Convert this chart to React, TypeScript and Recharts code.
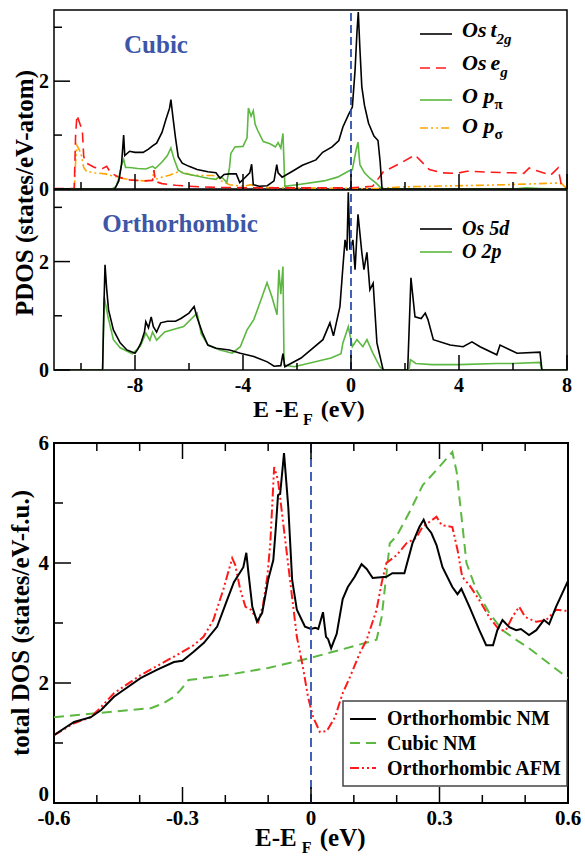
import React from "react";
import { LineChart, Line, XAxis, YAxis, ReferenceLine, ReferenceArea } from "recharts";

type Pt = [number, number];

// cubic PDOS (top panel): [E - E_F (eV), states/eV-atom]
const cubicOsT2g: Pt[] = [
  [-11, 0], [-8.75, 0], [-8.6, 0.15], [-8.5, 0.45], [-8.42, 1.0], [-8.38, 0.62], [-8.2, 0.7], [-8.0, 0.68],
  [-7.7, 0.68], [-7.5, 0.74], [-7.35, 0.8], [-7.2, 0.85], [-7.0, 1.05], [-6.85, 1.3], [-6.72, 1.5], [-6.67, 1.66],
  [-6.6, 1.35], [-6.5, 0.95], [-6.4, 0.6], [-6.25, 0.48], [-6.0, 0.42], [-5.7, 0.36], [-5.3, 0.32], [-5.0, 0.3],
  [-4.85, 0.2], [-4.7, 0.27], [-4.5, 0.28], [-4.25, 0.28], [-4.12, 0.12], [-3.95, 0.2], [-3.75, 0.3], [-3.68, 0.46],
  [-3.62, 0.08], [-3.4, 0.05], [-3.1, 0.06], [-2.85, 0.15], [-2.75, 0.45], [-2.7, 0.3], [-2.55, 0.22], [-2.2, 0.32],
  [-1.8, 0.44], [-1.3, 0.54], [-1.05, 0.68], [-0.7, 0.78], [-0.45, 0.9], [-0.3, 1.15], [-0.1, 1.37], [0.05, 1.52],
  [0.15, 2.2], [0.22, 2.9], [0.27, 3.28], [0.33, 2.6], [0.4, 1.9], [0.5, 1.55], [0.65, 1.22], [0.85, 0.98],
  [1.0, 0.9], [1.08, 0.5], [1.15, 0], [8, 0],
];
const cubicOsEg: Pt[] = [
  [-11, 0.01], [-10.25, 0.01], [-10.2, 1.0], [-10.15, 1.37], [-10.0, 1.15], [-9.95, 1.09], [-9.9, 0.6], [-9.8, 0.48],
  [-9.5, 0.4], [-9.2, 0.38], [-9.05, 0.42], [-8.9, 0.3], [-8.6, 0.22], [-8.2, 0.17], [-7.7, 0.15], [-7.35, 0.16],
  [-7.3, 0.35], [-7.25, 0.14], [-7.0, 0.1], [-6.5, 0.07], [-6.0, 0.05], [-5.0, 0.03], [-3.0, 0.02], [0, 0.02],
  [0.8, 0.05], [1.2, 0.32], [1.8, 0.47], [2.37, 0.63], [2.9, 0.36], [3.4, 0.3], [3.9, 0.29], [4.3, 0.33],
  [5.15, 0.31], [6.0, 0.3], [6.4, 0.29], [6.6, 0.39], [6.75, 0.36], [7.0, 0.32], [7.4, 0.26], [7.67, 0.39],
  [7.8, 0.05], [8, 0],
];
const cubicOPpi: Pt[] = [
  [-11, 0], [-8.85, 0], [-8.7, 0.05], [-8.6, 0.2], [-8.5, 0.45], [-8.42, 0.55], [-8.35, 0.4], [-8.2, 0.4],
  [-7.9, 0.38], [-7.6, 0.37], [-7.35, 0.42], [-7.25, 0.38], [-7.0, 0.5], [-6.8, 0.62], [-6.67, 0.76], [-6.55, 0.55],
  [-6.4, 0.35], [-6.2, 0.29], [-5.8, 0.25], [-5.3, 0.2], [-5.0, 0.18], [-4.9, 0.23], [-4.75, 0.2], [-4.6, 0.12],
  [-4.5, 0.4], [-4.45, 0.66], [-4.3, 0.78], [-4.0, 0.79], [-3.85, 0.95], [-3.8, 1.5], [-3.7, 1.35], [-3.62, 1.45],
  [-3.55, 1.2], [-3.45, 1.08], [-3.25, 0.88], [-3.0, 0.84], [-2.8, 0.78], [-2.7, 0.86], [-2.6, 0.76], [-2.52, 1.03],
  [-2.45, 0.05], [-2.0, 0.08], [-1.0, 0.15], [-0.5, 0.22], [-0.1, 0.33], [0.05, 0.36], [0.18, 0.7], [0.26, 0.87],
  [0.33, 0.45], [0.5, 0.3], [0.7, 0.2], [0.95, 0.1], [1.15, 0], [6.0, 0], [6.5, 0.02], [7.0, 0.01], [8, 0],
];
const cubicOPsigma: Pt[] = [
  [-11, 0], [-10.25, 0], [-10.2, 0.5], [-10.15, 0.81], [-10.0, 0.66], [-9.9, 0.4], [-9.8, 0.33], [-9.5, 0.3],
  [-9.1, 0.28], [-8.8, 0.24], [-8.5, 0.2], [-8.0, 0.16], [-7.6, 0.15], [-7.35, 0.17], [-7.3, 0.35], [-7.25, 0.18],
  [-7.0, 0.22], [-6.7, 0.26], [-6.4, 0.32], [-6.2, 0.3], [-5.9, 0.26], [-5.5, 0.25], [-5.1, 0.25], [-4.8, 0.15],
  [-4.5, 0.08], [-4.0, 0.05], [-3.7, 0.08], [-3.5, 0.03], [-2.0, 0.02], [0, 0.01], [1.0, 0.01], [1.9, 0.04],
  [3.9, 0.06], [5.0, 0.07], [6.4, 0.09], [7.6, 0.11], [7.8, 0.1], [8, 0],
];

// orthorhombic PDOS (middle panel)
const orthoOs5d: Pt[] = [
  [-11, 0], [-9.2, 0], [-9.15, 1.2], [-9.11, 1.94], [-9.05, 1.5], [-8.98, 1.11], [-8.8, 0.74], [-8.55, 0.5],
  [-8.3, 0.37], [-8.0, 0.31], [-7.9, 0.38], [-7.78, 0.5], [-7.65, 0.7], [-7.6, 0.89], [-7.5, 0.78], [-7.4, 0.98],
  [-7.32, 0.8], [-7.2, 0.7], [-7.05, 0.87], [-6.8, 0.9], [-6.5, 0.9], [-6.3, 0.95], [-6.0, 1.05], [-5.81, 1.17],
  [-5.7, 0.97], [-5.5, 0.68], [-5.3, 0.46], [-5.0, 0.4], [-4.5, 0.37], [-4.1, 0.31], [-3.6, 0.25], [-3.1, 0.15],
  [-2.85, 0.07], [-2.6, 0.08], [-2.52, 0.3], [-2.45, 0.06], [-1.85, 0.22], [-1.04, 0.56], [-0.78, 0.87], [-0.65, 0.63],
  [-0.41, 1.17], [-0.3, 1.9], [-0.22, 2.4], [-0.15, 2.2], [-0.1, 3.28], [-0.04, 2.22], [0.07, 2.4], [0.15, 1.85],
  [0.26, 2.87], [0.4, 2.17], [0.48, 1.85], [0.59, 2.17], [0.7, 1.48], [0.82, 1.6], [0.96, 0.5], [1.19, 0],
  [2.1, 0], [2.22, 1.7], [2.37, 0.98], [2.6, 0.95], [2.75, 1.05], [2.85, 0.93], [3.05, 0.56], [3.67, 0.46],
  [4.15, 0.43], [4.48, 0.52], [4.78, 0.43], [5.4, 0.28], [5.52, 0.46], [5.9, 0.37], [6.15, 0.31], [7.0, 0.33],
  [7.07, 0], [8, 0],
];
const orthoO2p: Pt[] = [
  [-11, 0], [-9.2, 0], [-9.14, 1.35], [-9.0, 0.98], [-8.8, 0.56], [-8.55, 0.41], [-8.1, 0.3], [-7.8, 0.44],
  [-7.6, 0.68], [-7.45, 0.55], [-7.35, 0.7], [-7.2, 0.55], [-6.9, 0.7], [-6.2, 0.8], [-5.7, 1.05], [-5.55, 0.67],
  [-5.3, 0.46], [-4.85, 0.37], [-4.4, 0.31], [-4.1, 0.43], [-3.85, 0.74], [-3.6, 0.93], [-3.33, 1.3], [-3.11, 1.61],
  [-2.93, 1.35], [-2.74, 1.02], [-2.67, 1.85], [-2.6, 1.4], [-2.52, 1.91], [-2.48, 0.09], [-2.1, 0.06], [-0.74, 0.22],
  [-0.37, 0.3], [-0.3, 0.5], [-0.1, 0.8], [0.05, 0.43], [0.22, 0.56], [0.44, 0.43], [0.59, 0.56], [0.81, 0.31],
  [1.07, 0.06], [1.2, 0], [2.15, 0], [2.2, 0.19], [2.4, 0.12], [3.0, 0.1], [4.0, 0.1], [5.4, 0.12],
  [6.0, 0.12], [7.0, 0.14], [7.07, 0], [8, 0],
];

// total DOS (bottom panel): [E - E_F (eV), states/eV-f.u.]
const orthoNM: Pt[] = [
  [-0.6, 1.13], [-0.575, 1.25], [-0.553, 1.35], [-0.514, 1.43], [-0.49, 1.55], [-0.46, 1.77], [-0.43, 1.92],
  [-0.398, 2.08], [-0.36, 2.22], [-0.32, 2.35], [-0.3, 2.37], [-0.274, 2.52], [-0.25, 2.67], [-0.219, 2.94],
  [-0.196, 3.38], [-0.18, 3.68], [-0.158, 3.93], [-0.151, 4.17], [-0.146, 3.83], [-0.137, 3.27], [-0.126, 3.02],
  [-0.114, 3.17], [-0.1, 3.72], [-0.088, 4.05], [-0.082, 4.6], [-0.077, 5.13], [-0.072, 5.15], [-0.063, 5.83],
  [-0.053, 4.93], [-0.044, 3.72], [-0.033, 3.22], [-0.014, 2.94], [0, 2.9], [0.01, 2.92], [0.017, 2.9],
  [0.028, 3.18], [0.035, 2.77], [0.04, 2.73], [0.047, 2.58], [0.06, 2.82], [0.074, 3.4], [0.086, 3.6],
  [0.102, 3.77], [0.118, 3.98], [0.13, 3.9], [0.144, 3.75], [0.176, 3.77], [0.19, 3.83], [0.218, 3.83],
  [0.237, 4.33], [0.253, 4.6], [0.263, 4.72], [0.27, 4.6], [0.281, 4.5], [0.293, 4.3], [0.307, 3.93],
  [0.33, 3.6], [0.342, 3.48], [0.351, 3.57], [0.37, 3.27], [0.393, 2.88], [0.409, 2.63], [0.425, 2.63],
  [0.435, 2.88], [0.447, 3.05], [0.463, 2.93], [0.479, 2.88], [0.49, 2.9], [0.509, 2.8], [0.526, 2.88],
  [0.544, 3.05], [0.556, 2.98], [0.572, 3.27], [0.6, 3.7],
];
const cubicNM: Pt[] = [
  [-0.6, 1.43], [-0.374, 1.58], [-0.345, 1.66], [-0.32, 1.77], [-0.305, 1.88], [-0.286, 2.05], [-0.2, 2.13],
  [-0.1, 2.25], [0, 2.42], [0.067, 2.55], [0.153, 2.72], [0.165, 3.1], [0.184, 4.33], [0.2, 4.45], [0.23, 4.85],
  [0.261, 5.3], [0.293, 5.55], [0.33, 5.85], [0.34, 5.52], [0.363, 4.0], [0.386, 3.55], [0.416, 3.17],
  [0.447, 2.88], [0.479, 2.72], [0.509, 2.58], [0.6, 2.08],
];
const orthoAFM: Pt[] = [
  [-0.6, 1.13], [-0.553, 1.33], [-0.514, 1.43], [-0.49, 1.6], [-0.46, 1.83], [-0.398, 2.13], [-0.335, 2.38],
  [-0.305, 2.5], [-0.274, 2.63], [-0.251, 2.77], [-0.228, 3.05], [-0.205, 3.55], [-0.184, 4.08], [-0.177, 3.97],
  [-0.165, 3.55], [-0.153, 3.27], [-0.14, 3.22], [-0.123, 3.02], [-0.112, 3.3], [-0.102, 3.77], [-0.095, 4.33],
  [-0.086, 5.6], [-0.077, 5.38], [-0.065, 4.67], [-0.049, 3.72], [-0.033, 2.77], [-0.019, 2.27], [-0.007, 1.77],
  [0.005, 1.43], [0.021, 1.18], [0.037, 1.2], [0.056, 1.43], [0.074, 1.83], [0.091, 2.1], [0.114, 2.5],
  [0.13, 2.72], [0.153, 3.22], [0.165, 3.67], [0.176, 4.0], [0.2, 4.13], [0.223, 4.33], [0.246, 4.42],
  [0.26, 4.6], [0.293, 4.77], [0.305, 4.63], [0.33, 4.6], [0.342, 4.22], [0.353, 3.77], [0.37, 3.63],
  [0.393, 3.38], [0.416, 3.1], [0.44, 2.88], [0.455, 2.88], [0.47, 3.1], [0.486, 3.27], [0.5, 3.1],
  [0.526, 3.02], [0.549, 3.05], [0.572, 3.22], [0.6, 3.2],
];

// axes
const pdosXDomain: [number, number] = [-11, 8];
const pdosYDomain: [number, number] = [0, 3.32];
const pdosXTicks = [-10, -8, -6, -4, -2, 0, 2, 4, 6, 8];
const pdosXMajor = [-8, -4, 0, 4, 8];
const pdosYTicks = [0, 1, 2, 3];
const pdosYMajor = [0, 2];
const totXDomain: [number, number] = [-0.6, 0.6];
const totYDomain: [number, number] = [0, 6];
const totXTicks = [-0.6, -0.5, -0.4, -0.3, -0.2, -0.1, 0, 0.1, 0.2, 0.3, 0.4, 0.5, 0.6];
const totXMajor = [-0.6, -0.3, 0, 0.3, 0.6];
const totYTicks = [0, 1, 2, 3, 4, 5, 6];
const totYMajor = [0, 2, 4, 6];

const FONT = '"Liberation Serif", "Times New Roman", Times, serif';
const BLACK = "#000000";
const RED = "#ff1a1a";
const GREEN = "#5cb840";
const ORANGE = "#ffa500";
const BLUE = "#3050b0";
const TITLE_BLUE = "#3d56a8";
const DASH = "10 6";
const DASH_DOT = "8 3 2 3 2 3";

const rows = (pts: Pt[]) => pts.map(([x, y]) => ({ x, y }));
const isMajor = (v: number, majors: number[]) => majors.some((m) => Math.abs(m - v) < 1e-9);

// inward ticks; labels only on majors
function xTick(majors: number[], side: "bottom" | "top", long: number, short: number, label: boolean, fontSize: number) {
  return (p: any) => {
    const v = p.payload.value as number;
    const major = isMajor(v, majors);
    const s = side === "bottom" ? -1 : 1;
    return (
      <g>
        <line x1={p.x} x2={p.x} y1={p.y} y2={p.y + s * (major ? long : short)} stroke={BLACK} strokeWidth={1.5} />
        {label && major ? (
          <text x={p.x} y={p.y + 22} textAnchor="middle" fontFamily={FONT} fontWeight="bold" fontSize={fontSize} fill={BLACK}>
            {String(v)}
          </text>
        ) : null}
      </g>
    );
  };
}

// zeroLift nudges the "0" label up where it would touch the x labels
function yTick(majors: number[], long: number, short: number, fontSize: number, zeroLift = 0) {
  return (p: any) => {
    const v = p.payload.value as number;
    const major = isMajor(v, majors);
    return (
      <g>
        <line x1={p.x} x2={p.x + (major ? long : short)} y1={p.y} y2={p.y} stroke={BLACK} strokeWidth={1.5} />
        {major ? (
          <text x={p.x - 5} y={p.y - (v === 0 ? zeroLift : 0)} dy="0.35em" textAnchor="end" fontFamily={FONT}
            fontWeight="bold" fontSize={fontSize} fill={BLACK}>
            {String(v)}
          </text>
        ) : null}
      </g>
    );
  };
}

function PdosPanel({ top, height, margin, xLabels, series }: {
  top: number;
  height: number;
  margin: { top: number; right: number; bottom: number; left: number };
  xLabels: boolean;
  series: { pts: Pt[]; color: string; dash?: string }[];
}) {
  return (
    <div style={{ position: "absolute", left: 0, top }}>
      <LineChart width={585} height={height} margin={margin}>
        <XAxis type="number" dataKey="x" domain={pdosXDomain} ticks={pdosXTicks} interval={0} height={1}
          tickSize={0} tickMargin={0} axisLine={false} tickLine={false} allowDataOverflow
          tick={xTick(pdosXMajor, "bottom", 15, 7, xLabels, 20)} />
        <YAxis type="number" domain={pdosYDomain} ticks={pdosYTicks} interval={0} width={1}
          tickSize={0} tickMargin={0} axisLine={false} tickLine={false} allowDataOverflow
          tick={yTick(pdosYMajor, 16, 8, 20)} />
        {series.map((s, i) => (
          <Line key={i} data={rows(s.pts)} dataKey="y" type="linear" stroke={s.color} strokeWidth={1.6}
            strokeDasharray={s.dash} dot={false} activeDot={false} isAnimationActive={false} />
        ))}
        <ReferenceLine x={0} stroke={BLUE} strokeWidth={1.8} strokeDasharray="8 4" />
        <ReferenceArea x1={pdosXDomain[0]} x2={pdosXDomain[1]} y1={pdosYDomain[0]} y2={pdosYDomain[1]}
          fill="none" fillOpacity={0} stroke={BLACK} strokeWidth={1.5} strokeOpacity={1} />
      </LineChart>
    </div>
  );
}

function TotalPanel() {
  return (
    <div style={{ position: "absolute", left: 0, top: 430 }}>
      <LineChart width={585} height={426} margin={{ top: 12, right: 17, bottom: 52, left: 53 }}>
        <XAxis type="number" dataKey="x" domain={totXDomain} ticks={totXTicks} interval={0} height={1}
          tickSize={0} tickMargin={0} axisLine={false} tickLine={false} allowDataOverflow
          tick={xTick(totXMajor, "bottom", 16, 8, true, 21)} />
        <XAxis xAxisId="top" orientation="top" type="number" dataKey="x" domain={totXDomain} ticks={totXTicks}
          interval={0} height={1} tickSize={0} tickMargin={0} axisLine={false} tickLine={false} allowDataOverflow
          tick={xTick(totXMajor, "top", 16, 8, false, 21)} />
        <YAxis type="number" domain={totYDomain} ticks={totYTicks} interval={0} width={1}
          tickSize={0} tickMargin={0} axisLine={false} tickLine={false} allowDataOverflow
          tick={yTick(totYMajor, 17, 9, 21, 9)} />
        <Line data={rows(cubicNM)} dataKey="y" type="linear" stroke={GREEN} strokeWidth={2} strokeDasharray={DASH}
          dot={false} activeDot={false} isAnimationActive={false} />
        <Line data={rows(orthoAFM)} dataKey="y" type="linear" stroke={RED} strokeWidth={2} strokeDasharray="9 3 2 3 2 3"
          dot={false} activeDot={false} isAnimationActive={false} />
        <Line data={rows(orthoNM)} dataKey="y" type="linear" stroke={BLACK} strokeWidth={2}
          dot={false} activeDot={false} isAnimationActive={false} />
        <ReferenceLine x={0} stroke={BLUE} strokeWidth={1.8} strokeDasharray="9 5" />
        <ReferenceArea x1={totXDomain[0]} x2={totXDomain[1]} y1={totYDomain[0]} y2={totYDomain[1]}
          fill="none" fillOpacity={0} stroke={BLACK} strokeWidth={2} strokeOpacity={1} />
      </LineChart>
    </div>
  );
}

function Overlay() {
  const t = { fontFamily: FONT, fontWeight: "bold" as const, fill: BLACK };
  const li = { ...t, fontStyle: "italic" as const, fontSize: 22 };
  return (
    <svg width={585} height={856} style={{ position: "absolute", left: 0, top: 0, pointerEvents: "none" }}>
      <text x={156} y={53} textAnchor="middle" {...t} fill={TITLE_BLUE} fontSize={25}>Cubic</text>
      <text x={180} y={232} textAnchor="middle" {...t} fill={TITLE_BLUE} fontSize={25}>Orthorhombic</text>

      {/* cubic legend */}
      <line x1={420} x2={452} y1={34} y2={34} stroke={BLACK} strokeWidth={1.6} />
      <text x={462} y={37} {...li}>Os<tspan dx={4}>t</tspan><tspan fontSize={15} dy={7}>2g</tspan></text>
      <line x1={420} x2={452} y1={68} y2={68} stroke={RED} strokeWidth={1.6} strokeDasharray={DASH} />
      <text x={462} y={70} {...li}>Os<tspan dx={4}>e</tspan><tspan fontSize={15} dy={7}>g</tspan></text>
      <line x1={420} x2={452} y1={100} y2={100} stroke={GREEN} strokeWidth={1.6} />
      <text x={462} y={103} {...li}>O p<tspan fontSize={15} fontStyle="normal" dy={6}>π</tspan></text>
      <line x1={420} x2={452} y1={128} y2={128} stroke={ORANGE} strokeWidth={1.6} strokeDasharray={DASH_DOT} />
      <text x={462} y={133} {...li}>O p<tspan fontSize={15} fontStyle="normal" dy={6}>σ</tspan></text>

      {/* orthorhombic legend */}
      <line x1={420} x2={452} y1={229} y2={229} stroke={BLACK} strokeWidth={1.6} />
      <text x={462} y={235} {...li} fontSize={20}>Os 5d</text>
      <line x1={420} x2={452} y1={252} y2={252} stroke={GREEN} strokeWidth={1.6} />
      <text x={462} y={258} {...li} fontSize={20}>O 2p</text>

      {/* axis titles */}
      <text transform="translate(33,193) rotate(-90)" textAnchor="middle" {...t} fontSize={25}>PDOS (states/eV-atom)</text>
      <text x={253} y={417} {...t} fontSize={24}>E -E<tspan fontSize={16} dx={4} dy={8}>F</tspan><tspan dx={2} dy={-8}> (eV)</tspan></text>
      <text transform="translate(29,623) rotate(-90)" textAnchor="middle" {...t} fontSize={25}>total DOS (states/eV-f.u.)</text>
      <text x={255} y={846} {...t} fontSize={25}>E-E<tspan fontSize={16} dx={5} dy={7}>F</tspan><tspan dx={2} dy={-7}> (eV)</tspan></text>

      {/* total DOS legend */}
      <rect x={343} y={701} width={224} height={85} fill="#ffffff" stroke="#444" strokeWidth={1.5} />
      <line x1={350} x2={376} y1={719} y2={719} stroke={BLACK} strokeWidth={2} />
      <text x={387} y={725} {...t} fontSize={20}>Orthorhombic NM</text>
      <line x1={350} x2={376} y1={743} y2={743} stroke={GREEN} strokeWidth={2} strokeDasharray={DASH} />
      <text x={387} y={750} {...t} fontSize={20}>Cubic NM</text>
      <line x1={350} x2={376} y1={768} y2={768} stroke={RED} strokeWidth={2} strokeDasharray="9 3 2 3 2 3" />
      <text x={387} y={775} {...t} fontSize={20}>Orthorhombic AFM</text>
    </svg>
  );
}

export default function App() {
  return (
    <div style={{ position: "absolute", left: 0, top: 0, width: 585, height: 856, background: "#fff", overflow: "hidden" }}>
      <PdosPanel top={0} height={210} margin={{ top: 10, right: 18, bottom: 20, left: 53 }} xLabels={false}
        series={[
          { pts: cubicOPsigma, color: ORANGE, dash: DASH_DOT },
          { pts: cubicOsEg, color: RED, dash: DASH },
          { pts: cubicOPpi, color: GREEN },
          { pts: cubicOsT2g, color: BLACK },
        ]} />
      <PdosPanel top={180} height={240} margin={{ top: 10, right: 18, bottom: 49, left: 53 }} xLabels
        series={[
          { pts: orthoO2p, color: GREEN },
          { pts: orthoOs5d, color: BLACK },
        ]} />
      <TotalPanel />
      <Overlay />
    </div>
  );
}
